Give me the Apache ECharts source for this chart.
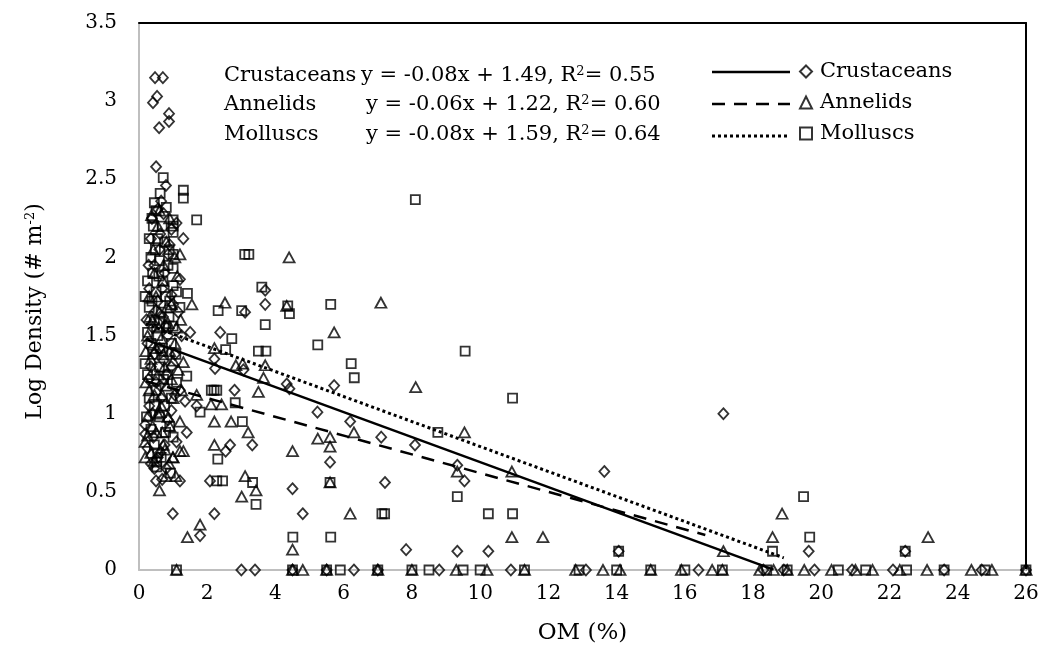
<!DOCTYPE html>
<html>
<head>
<meta charset="utf-8">
<script src="https://cdn.jsdelivr.net/npm/echarts@6/dist/echarts.min.js"></script>
<style>
html,body{margin:0;padding:0;background:#fff;}
#chart{width:1060px;height:664px;}
</style>
</head>
<body>
<div id="chart"></div>
<script>
// ---------- data ----------
const seriesNames = ['Crustaceans', 'Annelids', 'Molluscs'];
const equations = [
  'y = -0.08x + 1.49, R{s|2}= 0.55',
  'y = -0.06x + 1.22, R{s|2}= 0.60',
  'y = -0.08x + 1.59, R{s|2}= 0.64'
];
const xTicks = [0, 2, 4, 6, 8, 10, 12, 14, 16, 18, 20, 22, 24, 26];
const yTicks = [0, 0.5, 1, 1.5, 2, 2.5, 3, 3.5];

// trend lines: slope, intercept, x range
const trendSlope = [-0.08, -0.06, -0.08];
const trendIntercept = [1.49, 1.22, 1.59];
const trendStart = [0.2, 0.2, 0.2];
const trendEnd = [18.6, 16.6, 18.9];

const crustaceans = [
  [0.47,3.15],[0.70,3.15],[0.41,2.99],[0.53,3.03],[0.59,2.83],[0.88,2.92],[0.88,2.87],[0.50,2.58],
  [0.79,2.46],[0.65,2.36],[0.55,2.31],[0.72,2.28],[1.10,2.22],[0.95,2.18],[1.30,2.12],[0.35,2.12],
  [0.60,2.05],[0.85,2.02],[1.20,1.86],[0.45,1.95],[0.75,1.90],[0.30,1.80],[0.95,1.76],[0.55,1.72],
  [1.15,1.65],[0.70,1.62],[1.50,1.52],[0.40,1.55],[0.85,1.50],[0.25,1.45],[0.60,1.42],[1.05,1.38],
  [0.35,1.30],[0.80,1.25],[0.50,1.20],[1.20,1.15],[0.65,1.10],[0.30,1.05],[0.95,1.02],[0.18,0.93],
  [0.18,0.87],[0.42,0.85],[0.75,0.80],[1.40,0.88],[0.55,0.72],[0.50,0.57],[1.20,0.57],[0.99,0.36],
  [0.45,0.65],
  [0.38,2.25],[0.62,2.15],[0.90,2.08],[0.28,1.95],[0.68,1.80],[1.00,1.70],[0.50,1.66],[0.22,1.60],
  [0.78,1.56],[1.25,1.50],[0.45,1.38],[0.72,1.34],[0.95,1.30],[0.28,1.22],[0.62,1.18],[1.05,1.12],
  [0.40,1.00],[0.85,0.96],[0.25,0.78],[0.62,0.75],[1.10,0.82],[0.35,0.68],[0.80,0.65],[0.68,0.58],
  [1.35,1.08],
  [2.38,1.52],[2.21,1.35],[2.23,1.29],[3.06,1.28],[3.11,1.65],[3.70,1.79],[3.70,1.70],[4.33,1.19],
  [4.41,1.16],[2.80,1.15],[1.69,1.05],[5.23,1.01],[6.19,0.95],[3.32,0.80],[2.67,0.80],[2.54,0.76],
  [5.60,0.69],[7.10,0.85],[8.09,0.80],[5.72,1.18],[9.33,0.67],[9.54,0.57],[13.64,0.63],[17.13,1.00],
  [2.08,0.57],[4.50,0.52],[7.21,0.56],[2.21,0.36],[4.80,0.36],[1.79,0.22],[7.83,0.13],[9.33,0.12],
  [10.24,0.12],[14.06,0.12],[19.63,0.12],[22.46,0.12],
  [3.0,0],[3.4,0],[4.5,0],[5.5,0],[6.3,0],[7.0,0],[8.8,0],[10.9,0],[13.1,0],[16.4,0],[18.3,0],
  [18.9,0],[19.8,0],[20.9,0],[22.1,0],[23.6,0],[24.7,0],[26,0]
];

const annelids = [
  [0.37,2.27],[0.55,2.20],[0.80,2.10],[1.05,2.00],[1.20,2.02],[0.45,1.90],[0.70,1.85],[0.30,1.75],
  [0.95,1.70],[0.60,1.65],[0.40,1.60],[0.85,1.58],[1.10,1.55],[0.25,1.50],[0.65,1.48],[0.50,1.42],
  [0.90,1.40],[0.35,1.35],[0.75,1.30],[1.15,1.28],[0.55,1.25],[0.20,1.20],[0.80,1.18],[0.45,1.12],
  [1.00,1.10],[0.65,1.05],[0.27,0.99],[0.62,1.01],[0.18,0.82],[0.18,0.72],[0.71,0.80],[0.76,0.77],
  [0.90,0.92],[0.50,0.88],[0.35,0.75],[1.00,0.72],[1.20,0.95],[1.00,1.34],[1.30,1.33],[1.55,1.70],
  [0.60,2.30],[0.90,2.25],[0.42,2.05],[0.72,1.95],[1.12,1.88],[0.50,1.75],[0.82,1.68],[0.32,1.62],
  [1.22,1.60],[0.58,1.55],[0.20,1.40],[0.72,1.38],[1.05,1.45],[0.42,1.28],[0.95,1.22],[0.30,1.15],
  [0.68,1.12],[1.25,1.15],[0.55,1.00],[0.85,0.98],[0.40,0.92],[0.25,0.86],[0.68,0.88],[0.45,0.70],
  [0.88,0.68],
  [2.52,1.71],[4.40,2.00],[4.33,1.69],[7.09,1.71],[5.72,1.52],[8.11,1.17],[2.21,1.42],[2.84,1.31],
  [3.04,1.32],[3.70,1.31],[3.65,1.23],[3.50,1.14],[1.69,1.12],[2.11,1.06],[2.42,1.06],[6.30,0.88],
  [2.21,0.95],[2.70,0.95],[3.20,0.88],[5.24,0.84],[5.60,0.85],[5.60,0.79],[2.21,0.80],[4.50,0.76],
  [1.20,0.76],[1.30,0.76],[0.99,0.72],[0.79,0.60],[1.08,0.60],[0.60,0.51],[3.11,0.60],[3.43,0.51],
  [3.01,0.47],[5.60,0.56],[6.19,0.36],[1.79,0.29],[1.42,0.21],[4.50,0.13],[9.54,0.88],[9.33,0.63],
  [10.93,0.63],[10.93,0.21],[11.84,0.21],[17.13,0.12],[18.57,0.21],[18.85,0.36],[23.13,0.21],
  [1.1,0],[4.5,0],[4.8,0],[5.5,0],[7.0,0],[8.0,0],[9.3,0],[10.2,0],[11.3,0],[12.8,0],[13.6,0],
  [14.1,0],[15.0,0],[15.9,0],[16.8,0],[17.1,0],[18.2,0],[18.6,0],[19.0,0],[19.5,0],[20.3,0],
  [21.0,0],[21.5,0],[22.3,0],[23.1,0],[24.4,0],[25.0,0],[26,0]
];

const molluscs = [
  [0.62,2.41],[0.45,2.35],[0.50,2.30],[0.42,2.20],[1.00,2.24],[1.00,2.20],[1.00,2.16],[0.30,2.12],
  [0.55,2.12],[0.75,2.10],[0.35,2.00],[1.00,2.02],[0.60,1.98],[0.85,1.95],[1.00,1.93],[0.40,1.90],
  [0.70,1.85],[1.00,1.82],[0.18,1.75],[0.50,1.78],[0.90,1.72],[0.30,1.68],[0.65,1.65],[0.45,1.60],
  [1.00,1.56],[0.80,1.55],[0.25,1.52],[0.55,1.50],[0.95,1.45],[0.70,1.40],[0.40,1.38],[0.18,1.32],
  [0.60,1.30],[0.85,1.25],[1.10,1.20],[0.50,1.15],[0.30,1.10],[0.75,1.05],[0.60,0.98],[0.90,0.92],
  [0.45,0.80],[0.55,0.75],[0.71,2.51],[1.30,2.43],[1.30,2.38],[1.69,2.24],[1.42,1.77],[1.20,1.68],
  [1.40,1.24],[0.52,0.69],[0.52,0.66],
  [0.80,2.32],[0.38,2.25],[0.68,2.20],[0.48,2.05],[0.88,2.05],[0.25,1.85],[0.58,1.88],[0.78,1.75],
  [1.10,1.78],[0.38,1.72],[0.60,1.58],[0.88,1.62],[0.35,1.45],[0.62,1.42],[1.08,1.38],[0.25,1.25],
  [0.72,1.22],[0.45,1.05],[0.95,1.10],[0.22,0.98],[0.78,0.88],[0.65,0.72],[1.00,0.85],[0.35,0.90],
  [0.92,0.62],
  [3.10,2.02],[3.22,2.02],[3.60,1.81],[2.32,1.66],[3.01,1.66],[4.36,1.69],[4.41,1.64],[5.62,1.70],
  [3.70,1.57],[5.24,1.44],[2.72,1.48],[2.54,1.41],[3.50,1.40],[3.72,1.40],[6.22,1.32],[6.31,1.23],
  [2.12,1.15],[2.20,1.15],[2.28,1.15],[1.79,1.01],[2.82,1.07],[3.03,0.95],[2.31,0.71],[2.28,0.57],
  [2.45,0.57],[3.33,0.56],[5.60,0.56],[3.43,0.42],[7.12,0.36],[7.20,0.36],[4.51,0.21],[5.62,0.21],
  [8.10,2.37],[9.56,1.40],[10.95,1.10],[8.76,0.88],[9.33,0.47],[10.24,0.36],[10.95,0.36],[14.06,0.12],
  [18.57,0.12],[19.48,0.47],[19.66,0.21],[22.46,0.12],
  [1.1,0],[4.5,0],[5.5,0],[5.9,0],[7.0,0],[8.0,0],[8.5,0],[9.5,0],[10.0,0],[11.3,0],[12.9,0],
  [14.0,0],[15.0,0],[16.0,0],[17.1,0],[18.4,0],[19.0,0],[20.5,0],[21.3,0],[22.5,0],[23.6,0],
  [24.8,0],[26,0]
];

// ---------- chart ----------
const FONT = 'DejaVu Serif';
const symbols = ['diamond', 'triangle', 'rect'];
const symbolSizes = [[10, 11], [11, 10], [9, 9]];
const lineTypes = ['solid', [13, 9], [3, 3]];
const lineWidths = [2.5, 2.5, 3];
const pointSets = [crustaceans, annelids, molluscs];

const chart = echarts.init(document.getElementById('chart'), null, {renderer: 'canvas'});

const series = [];
pointSets.forEach((pts, i) => {
  series.push({
    name: seriesNames[i],
    type: 'scatter',
    data: pts,
    symbol: symbols[i],
    symbolSize: symbolSizes[i],
    itemStyle: {color: 'rgba(0,0,0,0)', borderColor: '#000', borderWidth: 1.8},
    emphasis: {disabled: true},
    z: 3
  });
});
pointSets.forEach((pts, i) => {
  series.push({
    name: seriesNames[i] + ' trend',
    type: 'line',
    data: [
      [trendStart[i], trendSlope[i] * trendStart[i] + trendIntercept[i]],
      [trendEnd[i], trendSlope[i] * trendEnd[i] + trendIntercept[i]]
    ],
    symbol: 'none',
    lineStyle: {color: '#000', width: lineWidths[i], type: lineTypes[i]},
    itemStyle: {color: '#000'},
    z: 4
  });
});

const graphics = [];
const rowY = [76, 105, 135];
const legendRowY = [72, 104, 136];
const eqX = [361, 366, 366];
seriesNames.forEach((n, i) => {
  graphics.push({
    type: 'text', left: 224, top: rowY[i] - 11,
    style: {text: n, font: '21px "' + FONT + '"', fill: '#000'}
  });
  graphics.push({
    type: 'text', left: eqX[i], top: rowY[i] - 11,
    style: {
      text: equations[i], font: '21px "' + FONT + '"', fill: '#000',
      rich: {s: {fontSize: 13, fontFamily: FONT, verticalAlign: 'top', padding: [0, 0, 9, 0]}}
    }
  });
  const dash = lineTypes[i] === 'solid' ? null : lineTypes[i];
  graphics.push({
    type: 'line', shape: {x1: 712, y1: legendRowY[i], x2: 790, y2: legendRowY[i]},
    style: {stroke: '#000', lineWidth: lineWidths[i], lineDash: dash}
  });
});

chart.setOption({
  animation: false,
  backgroundColor: '#fff',
  grid: {left: 139, right: 34, top: 23, bottom: 94, containLabel: false},
  xAxis: [{
    type: 'value', min: xTicks[0], max: xTicks[xTicks.length - 1], interval: 2,
    name: 'OM (%)', nameLocation: 'middle', nameGap: 52,
    nameTextStyle: {fontFamily: FONT, fontSize: 23, color: '#000'},
    axisLine: {show: true, lineStyle: {color: '#bfbfbf', width: 2}},
    axisTick: {show: false},
    splitLine: {show: false},
    axisLabel: {fontFamily: FONT, fontSize: 20, color: '#000', margin: 14}
  }, {
    type: 'value', position: 'top', min: 0, max: 26,
    axisLine: {show: true, onZero: false, lineStyle: {color: '#000', width: 2}},
    axisTick: {show: false}, axisLabel: {show: false}, splitLine: {show: false}
  }],
  yAxis: [{
    type: 'value', min: yTicks[0], max: yTicks[yTicks.length - 1], interval: 0.5,
    name: 'Log Density (# m{sup|-2})', nameLocation: 'middle', nameGap: 92,
    nameTextStyle: {fontFamily: FONT, fontSize: 22, color: '#000', padding: [0, 30, 0, 0],
      rich: {sup: {fontFamily: FONT, fontSize: 13, verticalAlign: 'top', padding: [0, 0, 10, 0]}}},
    axisLine: {show: true, lineStyle: {color: '#bfbfbf', width: 2}},
    axisTick: {show: false},
    splitLine: {show: false},
    axisLabel: {fontFamily: FONT, fontSize: 20, color: '#000', margin: 22}
  }, {
    type: 'value', position: 'right', min: 0, max: 3.5,
    axisLine: {show: true, onZero: false, lineStyle: {color: '#000', width: 2}},
    axisTick: {show: false}, axisLabel: {show: false}, splitLine: {show: false}
  }],
  legend: [{
    data: seriesNames,
    orient: 'vertical', left: 799, top: 61, padding: 0,
    itemWidth: 12, itemHeight: 12, itemGap: 10,
    selectedMode: false,
    textStyle: {fontFamily: FONT, fontSize: 21, color: '#000', padding: [0, 0, 0, 3]}
  }],
  graphic: graphics,
  series: series
});
</script>
</body>
</html>
